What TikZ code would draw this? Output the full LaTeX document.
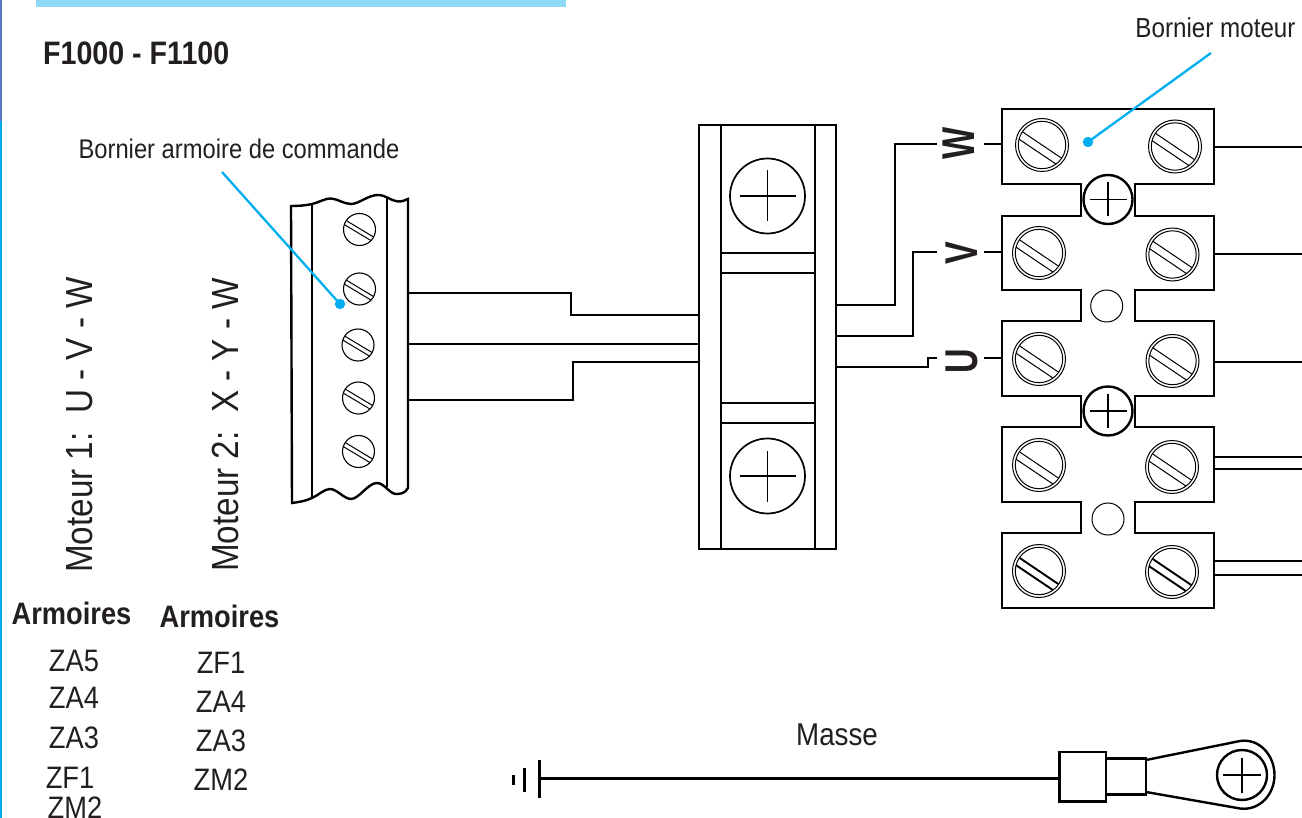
\documentclass[tikz,border=0pt]{standalone}
\usepackage{fontspec}
\setmainfont[FakeStretch=0.88]{Liberation Sans}
\newfontfamily\lblfont[FakeStretch=0.74]{Liberation Sans}
\newcommand{\fs}[1]{\fontsize{#1}{#1}\selectfont}
\definecolor{cyanline}{HTML}{00AEEF}
\definecolor{topbar}{HTML}{8CD9F8}
\definecolor{sidebar}{HTML}{5B78C2}
\definecolor{inkc}{HTML}{231F20}
\tikzset{
  wire/.style={line width=2pt,black,line join=miter},
  thick outline/.style={line width=2.4pt,black,line join=miter},
  thin outline/.style={line width=1.2pt,black},
  leader/.style={line width=2.3pt,cyanline},
  txt/.style={inner sep=0pt,text=inkc},
  smallscrew/.pic={
    \draw[line width=1.1pt] (0,0) circle (16);
    \begin{scope}
      \clip (0,0) circle (16);
      \draw[line width=1pt,rotate=-31,yscale=-1] (-17,0.8) -- (17,0.8) (-17,-3.6) -- (17,-3.6);
    \end{scope}
  },
  bigscrew/.pic={
    \draw[line width=1pt] (0,0) circle (26.5) circle (23.7);
    \begin{scope}
      \clip (0,0) circle (23.7);
      \draw[line width=1pt,rotate=-34,yscale=-1] (-25,0) -- (25,0) (-25,-8) -- (25,-8);
    \end{scope}
  },
  boldscrew/.pic={
    \draw[line width=1pt] (0,0) circle (26.5) circle (23.7);
    \begin{scope}
      \clip (0,0) circle (23.7);
      \draw[line width=1.9pt,rotate=-34,yscale=-1] (-25,0) -- (25,0) (-25,-8) -- (25,-8);
    \end{scope}
  },
}
\begin{document}
\begin{tikzpicture}[x=1pt,y=-1pt]
\useasboundingbox (0,0) rectangle (1302,818);
% page marks
\fill[topbar] (36,0) rectangle (566,7);
\fill[sidebar] (0,0) rectangle (2.4,121);
\fill[cyanline] (0,121) rectangle (2.4,818);
% titles
\node[txt,anchor=west] (title) at (43,53.5) {\fs{32.5}\bfseries F1000 - F1100};
\node[txt] (lblMot) at (1215.5,28) {\fs{27.5}Bornier moteur};
\node[txt] (lblArm) at (239,149) {\fs{27}Bornier armoire de commande};
\node[txt,rotate=90] (mot1) at (80,425) {\fs{37.8}Moteur 1:\ \ U - V - W};
\node[txt,rotate=90] (mot2) at (225,425) {\fs{37.8}Moteur 2:\ \ X - Y - W};
\node[txt] (arm1) at (71.5,613) {\fs{31}\bfseries Armoires};
\node[txt] (arm2) at (219.5,616) {\fs{31}\bfseries Armoires};
\foreach \n/\x/\y/\t in {a/74/661/ZA5,b/74/698/ZA4,c/74/738/ZA3,d/70/778/ZF1,e/75/808/ZM2,
  f/221/663/ZF1,g/221/702/ZA4,h/221/741/ZA3,i/221/780/ZM2}
  \node[txt] (z\n) at (\x,\y) {\fs{31}\t};
\node[txt] (masse) at (837,735) {\fs{31.5}Masse};
% left terminal strip
\draw[thick outline] (291,206) .. controls (298,206) and (306,205.5) .. (312,204)
  .. controls (320,202) and (326,198) .. (331,198.5) .. controls (338,199) and (344,204) .. (351,204)
  .. controls (359,204) and (368,195) .. (378,195) .. controls (386,195) and (391,201) .. (398,201.5)
  .. controls (402,201.5) and (405,200.5) .. (408,199)
  -- (408,488) .. controls (405,494) and (399,494) .. (396,494)
  .. controls (390,494) and (384,483) .. (377,483) .. controls (368,483) and (359,499) .. (351,499)
  .. controls (344,499) and (337,489) .. (330,489) .. controls (324,489) and (319,495) .. (312,498)
  .. controls (306,501) and (299,502) .. (292,503) -- cycle;
\draw[thin outline] (312,204) -- (312,498) (387,197) -- (387,487);
\pic at (359.5,229.5) {smallscrew};
\pic at (359.5,289) {smallscrew};
\pic at (358,345) {smallscrew};
\pic at (358.5,398) {smallscrew};
\pic at (358.5,451.5) {smallscrew};
% middle terminal
\draw[line width=1.7pt] (699,125) rectangle (836,549);
\draw[thin outline] (721,125) -- (721,549) (815,125) -- (815,549)
  (721,253) -- (815,253) (721,273) -- (815,273) (721,403) -- (815,403) (721,423) -- (815,423);
\foreach \c/\y in {p/196,q/476}{
  \coordinate (\c) at (767.5,\y);
  \draw[line width=1.7pt] (\c) circle (37.5);
  \draw[line width=1.7pt] ([xshift=-28pt]\c) -- ([xshift=28pt]\c) ([yshift=-25.5pt]\c) -- ([yshift=25.5pt]\c);
}
% wires left-middle
\draw[wire] (408,293) -- (571,293) -- (571,315) -- (699,315);
\draw[wire] (408,344) -- (699,344);
\draw[wire] (408,400) -- (573,400) -- (573,362) -- (699,362);
% wires to the motor terminal
\draw[wire] (836,305) -- (895,305) -- (895,144) -- (937,144);
\draw[wire] (836,336) -- (913,336) -- (913,252) -- (937,252);
\draw[wire] (836,367) -- (928,367) -- (928,358) -- (937,358);
\draw[wire] (984,144) -- (1002,144) (984,252) -- (1002,252) (984,358) -- (1002,358);
\node[txt,rotate=90,font=\lblfont\bfseries] (W) at (959,143.5) {\fs{46}W};
\node[txt,rotate=90,font=\lblfont\bfseries] (V) at (961.5,253) {\fs{46}V};
\node[txt,rotate=90,font=\lblfont\bfseries] (U) at (961.5,361) {\fs{46}U};
% motor terminal
\draw[thick outline] (1002,109) -- (1214,109) -- (1214,184) -- (1135,184) -- (1135,216) -- (1214,216)
  -- (1214,290) -- (1135,290) -- (1135,321) -- (1214,321) -- (1214,396) -- (1135,396) -- (1135,427) -- (1214,427)
  -- (1214,502) -- (1135,502) -- (1135,533) -- (1214,533) -- (1214,608) -- (1002,608)
  -- (1002,533) -- (1081,533) -- (1081,502) -- (1002,502) -- (1002,427) -- (1081,427) -- (1081,396) -- (1002,396)
  -- (1002,321) -- (1081,321) -- (1081,290) -- (1002,290) -- (1002,216) -- (1081,216) -- (1081,184) -- (1002,184) -- cycle;
\foreach \x/\y in {1042/145,1175/146.5,1039/253,1172.5/254.5,1039/359,1172.5/361,1039/465,1172/467}
  \pic at (\x,\y) {bigscrew};
\pic at (1039,571) {boldscrew};
\pic at (1172,572) {boldscrew};
\foreach \c/\y in {r/199.5,s/411}{
  \coordinate (\c) at (1108,\y);
  \draw[line width=2.4pt,fill=white] (\c) circle (24.5);
  \draw[line width=1.7pt] ([xshift=-18.5pt]\c) -- ([xshift=18.5pt]\c) ([yshift=-17pt]\c) -- ([yshift=17pt]\c);
}
\draw[line width=1pt] (1106.7,306) circle (16) (1108,519) circle (16);
\draw[wire] (1214,147) -- (1302,147) (1214,254) -- (1302,254) (1214,362) -- (1302,362)
  (1214,457) -- (1302,457) (1214,469) -- (1302,469) (1214,561) -- (1302,561) (1214,575) -- (1302,575);
% ground
\draw[line width=3pt] (513.5,775) -- (513.5,785) (524.5,768) -- (524.5,792);
\draw[line width=3pt] (539,760) -- (539,798);
\draw[line width=3pt] (539,778) -- (1059,778);
\draw[thick outline,line width=2.7pt] (1059.5,752) rectangle (1106,801.5);
\draw[thick outline,line width=2.7pt] (1106,758.5) -- (1146,758.5) -- (1146,794.5) -- (1106,794.5);
\draw[thick outline] (1146,760) -- (1240,741) .. controls (1260,738) and (1274.5,756) .. (1274.5,775)
  .. controls (1274.5,794) and (1260,811) .. (1240,808.5) -- (1146,792);
\coordinate (lug) at (1242,775);
\draw[line width=2.4pt] (lug) circle (25);
\draw[line width=2pt] ([xshift=-19pt]lug) -- ([xshift=19pt]lug) ([yshift=-17.5pt]lug) -- ([yshift=17.5pt]lug);
% leaders
\coordinate (d1) at (340,304);
\coordinate (d2) at (1088,142);
\coordinate (e1) at (222,172);
\coordinate (e2) at (1211,53);
\draw[leader] (e1) -- (d1);
\draw[leader] (e2) -- (d2);
\fill[cyanline] (d1) circle (5.2) (d2) circle (5.2);
\end{tikzpicture}
\end{document}
